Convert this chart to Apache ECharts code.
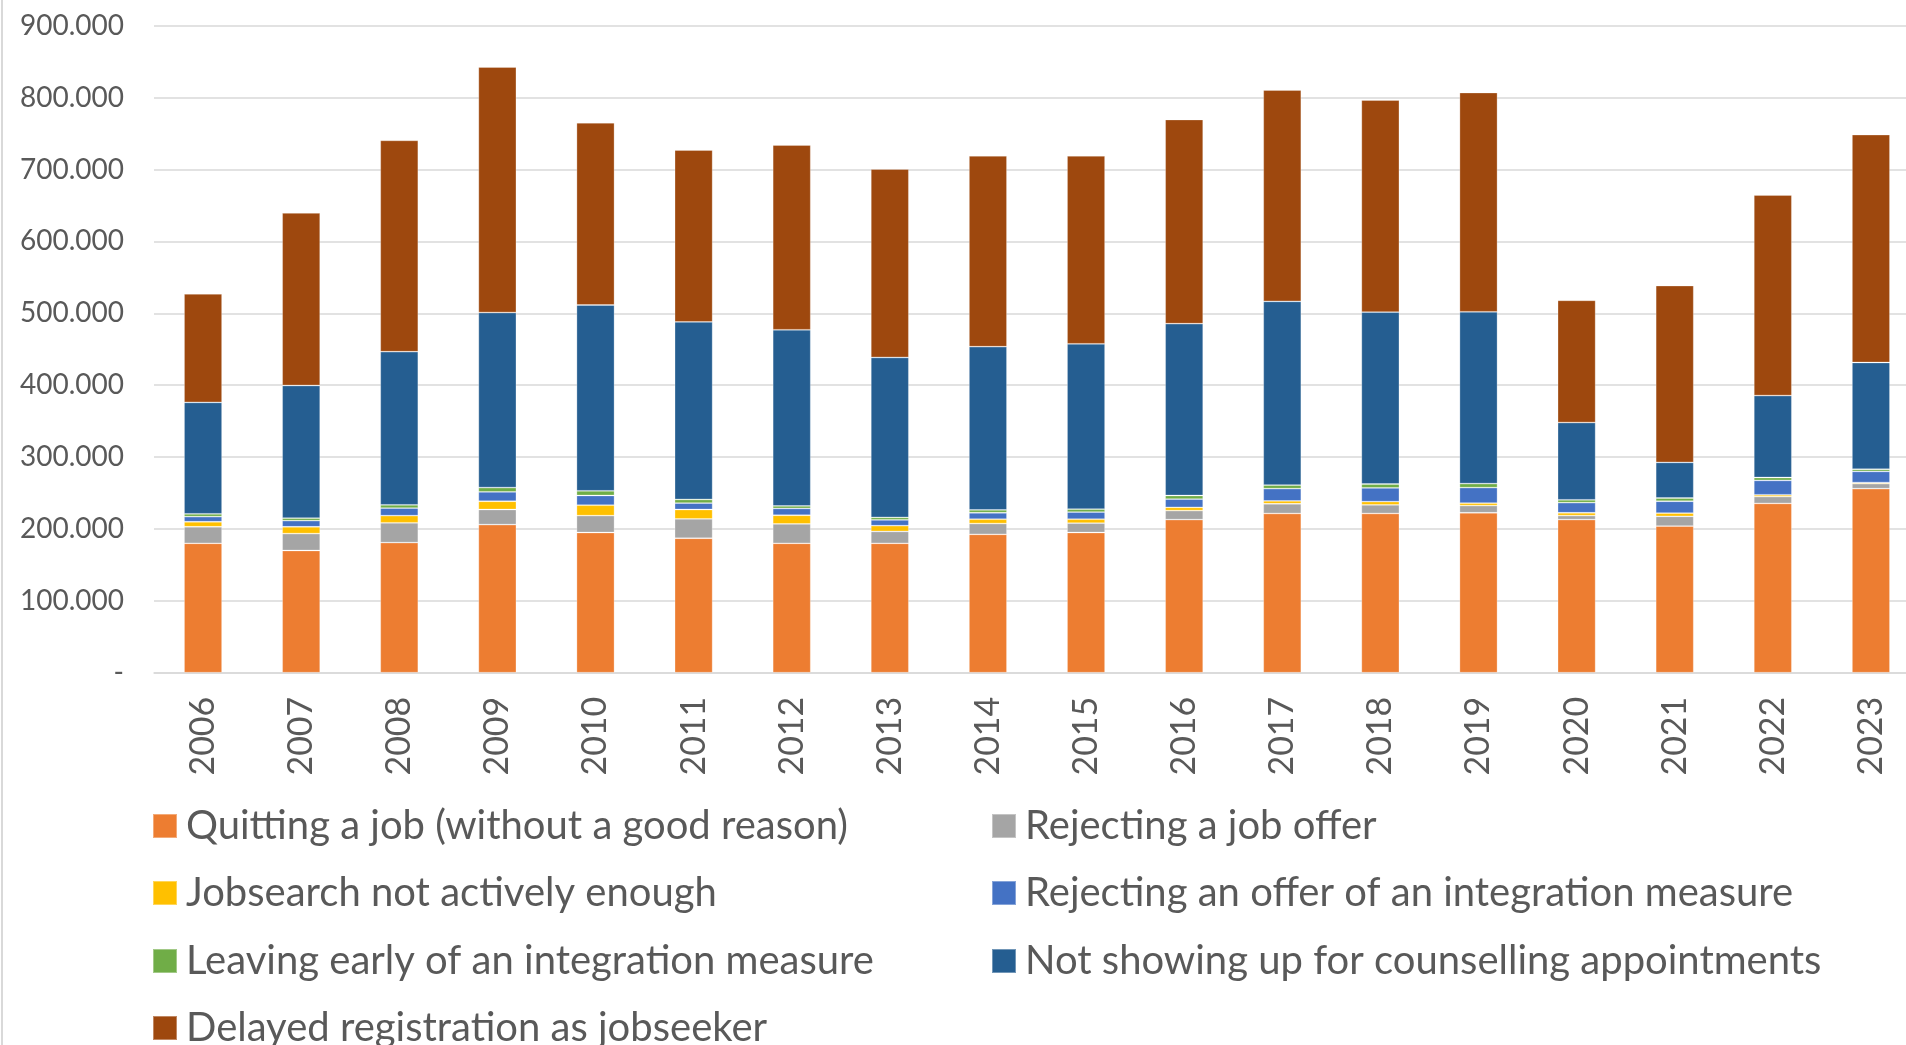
<!DOCTYPE html>
<html>
<head>
<meta charset="utf-8">
<script src="https://cdn.jsdelivr.net/npm/echarts@6/dist/echarts.min.js"></script>
<style>
  html, body { margin: 0; padding: 0; background: #fff; overflow: hidden; }
  #chart { width: 1906px; height: 1045px; }
  .frame { position: absolute; left: 1px; top: 0; width: 2px; height: 1045px; background: #d9d9d9; }
</style>
</head>
<body>
<div id="chart"></div>
<div class="frame"></div>
<script>
// values in thousands of sanctions per year
const years = ['2006', '2007', '2008', '2009', '2010', '2011', '2012', '2013', '2014', '2015', '2016', '2017', '2018', '2019', '2020', '2021', '2022', '2023']
const quitting = [180, 170, 181, 206, 195, 187, 180, 180, 192.5, 195, 213, 221.5, 221.5, 222.5, 213, 204, 235.5, 256]
const rejectingJob = [23, 23.5, 27.5, 21, 23.5, 27, 27, 16.5, 15, 13, 12.5, 13.5, 12, 10, 5.5, 13.5, 9.5, 7]
const jobsearch = [7, 9.5, 10, 11.5, 14.5, 13, 12, 8, 6, 5.5, 4.5, 4, 4.5, 3.5, 4, 4.5, 2.5, 1.5]
const rejectingMeasure = [7, 8.5, 10.5, 13, 13.5, 9, 9.5, 8, 9, 10, 11.5, 17, 19, 21.5, 14, 16.5, 20, 15.5]
const leavingEarly = [4, 3.5, 4.5, 6, 6.5, 5, 3.5, 3.5, 4, 4, 5, 5, 5.5, 5.5, 4, 4.5, 4, 3]
const notShowingUp = [155, 184.5, 213, 243.5, 258.5, 247, 245, 222.5, 227, 230, 239, 255.5, 239, 239, 107.5, 49.5, 114, 148.5]
const delayedReg = [151, 240, 294, 341.5, 253.5, 239, 257, 262, 265.5, 261.5, 284, 294, 295, 305, 170, 246, 279, 317]

const seriesDefs = [
  { name: 'Quitting a job (without a good reason)', data: quitting, color: '#ED7D31' },
  { name: 'Rejecting a job offer', data: rejectingJob, color: '#A5A5A5' },
  { name: 'Jobsearch not actively enough', data: jobsearch, color: '#FFC000' },
  { name: 'Rejecting an offer of an integration measure', data: rejectingMeasure, color: '#4472C4' },
  { name: 'Leaving early of an integration measure', data: leavingEarly, color: '#70AD47' },
  { name: 'Not showing up for counselling appointments', data: notShowingUp, color: '#255E91' },
  { name: 'Delayed registration as jobseeker', data: delayedReg, color: '#9E480E' },
]

const FONT = 'Lato'
const TEXT = '#595959'
const GRID = '#d9d9d9'

// legend laid out as two columns, row by row
const legendCols = [152, 991]
const legendRows = [804, 871, 939, 1006]
const legends = seriesDefs.map((s, i) => ({
  data: [s.name],
  left: legendCols[i % 2],
  top: legendRows[Math.floor(i / 2)],
  padding: 0,
  itemWidth: 24,
  itemHeight: 24,
  icon: 'rect',
  selectedMode: false,
  textStyle: { fontFamily: FONT, fontSize: 40, color: TEXT, lineHeight: 44, padding: [0, 0, 0, 4] },
}))

function fmt(v) {
  if (v === 0) return '-'
  return String(Math.round(v * 1000)).replace(/\B(?=(\d{3})+(?!\d))/g, '.')
}

const chart = echarts.init(document.getElementById('chart'))
chart.setOption({
  animation: false,
  grid: { left: 154, top: 25.7, right: -14, height: 647, outerBoundsMode: 'none' },
  legend: legends,
  xAxis: {
    type: 'category',
    data: years,
    axisLine: { lineStyle: { color: GRID, width: 1.5 } },
    axisTick: { show: false },
    axisLabel: { rotate: 90, margin: 24, fontFamily: FONT, fontSize: 34, color: TEXT },
  },
  yAxis: {
    type: 'value',
    min: 0,
    max: 900,
    interval: 100,
    axisLine: { show: false },
    axisTick: { show: false },
    splitLine: { lineStyle: { color: GRID, width: 1.5 } },
    axisLabel: { formatter: fmt, margin: 30, fontFamily: FONT, fontSize: 28, color: TEXT },
  },
  series: seriesDefs.map(s => ({
    name: s.name,
    type: 'bar',
    stack: 'total',
    barWidth: 38,
    data: s.data,
    itemStyle: { color: s.color, borderColor: 'rgba(255,255,255,0.35)', borderWidth: 0.8 },
  })),
})
</script>
</body>
</html>
